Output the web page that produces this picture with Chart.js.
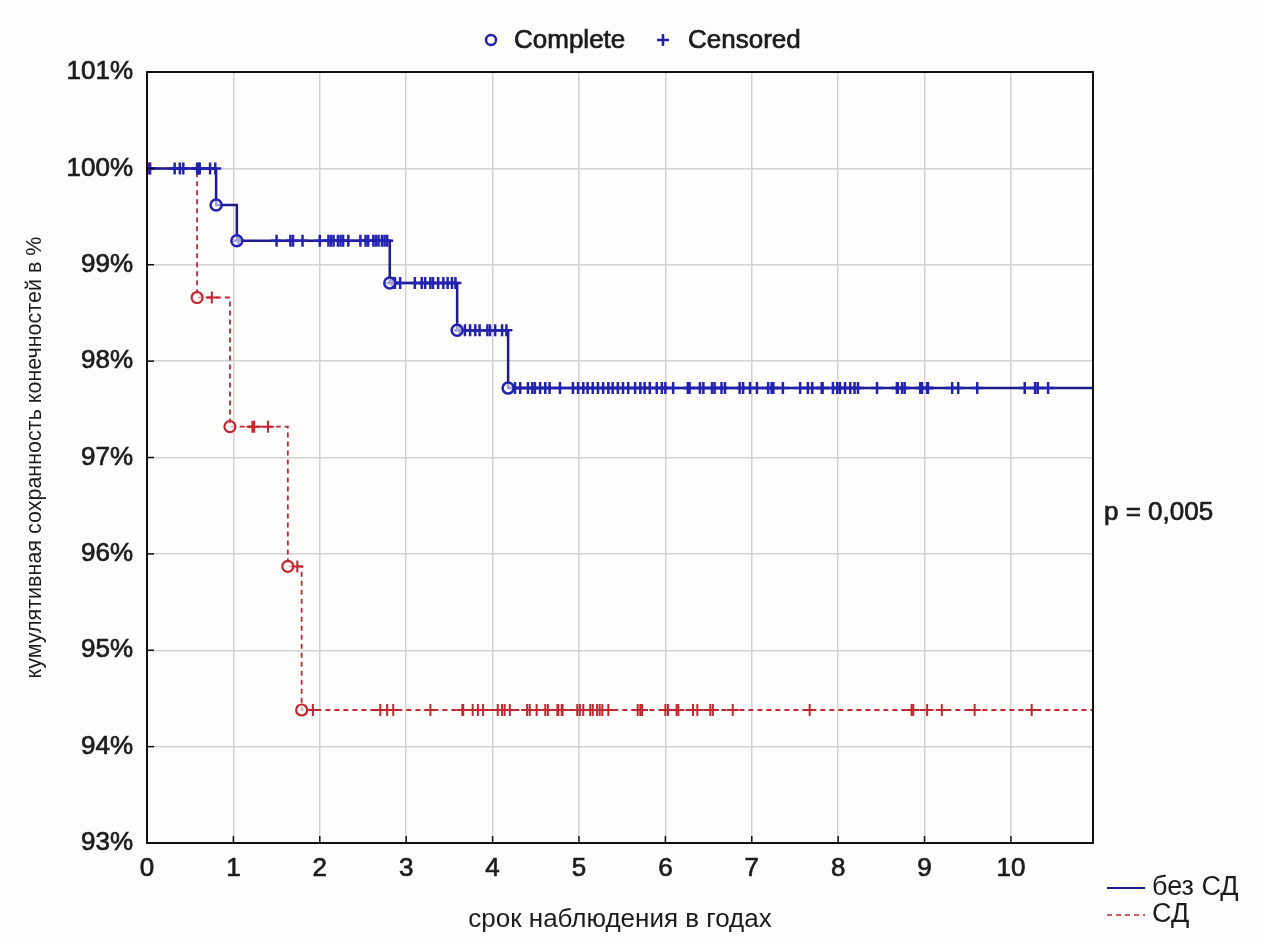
<!DOCTYPE html>
<html>
<head>
<meta charset="utf-8">
<script src="https://cdn.jsdelivr.net/npm/chart.js@4/dist/chart.umd.min.js"></script>
<style>
  html, body { margin: 0; padding: 0; background: #fdfdfb; }
  canvas { display: block; }
</style>
</head>
<body>
<canvas id="km" width="1261" height="939"></canvas>
<script>
// срок наблюдения (годы) и кумулятивная сохранность (%)
const xMin = 0
const xMax = 10.95
const yMin = 93
const yMax = 101

// без СД
const blueEventT = [0.80, 1.04, 2.81, 3.59, 4.18]
const blueEventS = [99.62, 99.25, 98.81, 98.32, 97.72]
const blueCensT = [
  0, 0.03, 0.32, 0.38, 0.42, 0.58, 0.60, 0.61, 0.73, 0.79,
  1.06, 1.50, 1.66, 1.69, 1.80, 2.00, 2.10, 2.13, 2.16, 2.21, 2.24, 2.27, 2.33, 2.47, 2.53, 2.56,
  2.62, 2.65, 2.68, 2.72, 2.75, 2.78,
  2.84, 2.87, 2.93, 3.10, 3.18, 3.22, 3.28, 3.31, 3.37, 3.43, 3.48, 3.53, 3.57,
  3.62, 3.68, 3.74, 3.80, 3.85, 3.94, 3.97, 4.03, 4.11, 4.16,
  4.26, 4.32, 4.41, 4.46, 4.49, 4.55, 4.61, 4.66, 4.78,
  4.93, 4.99, 5.05, 5.10, 5.16, 5.22, 5.28, 5.34, 5.39, 5.45, 5.51, 5.57, 5.65, 5.71, 5.76, 5.82,
  5.90, 5.96, 6.00, 6.09, 6.26, 6.28, 6.40, 6.44, 6.54, 6.57, 6.65, 6.69, 6.86, 6.90, 6.98, 7.06,
  7.19, 7.23, 7.25, 7.36, 7.56, 7.65, 7.70, 7.81, 7.82, 7.94, 7.99, 8.02, 8.08, 8.14, 8.19, 8.23,
  8.45, 8.68, 8.69, 8.74, 8.77, 8.95, 8.97, 9.03, 9.04, 9.32, 9.39, 9.61, 10.16, 10.28, 10.31, 10.43
]

// СД
const redEventT = [0.58, 0.96, 1.63, 1.79]
const redEventS = [98.66, 97.32, 95.87, 94.38]
const redCensT = [
  0.01, 0.04, 0.75, 1.22, 1.24, 1.40, 1.74,
  1.92, 2.70, 2.78, 2.85, 3.28, 3.65, 3.66, 3.77, 3.83, 3.89, 4.06, 4.11, 4.14, 4.20,
  4.40, 4.43, 4.51, 4.61, 4.64, 4.75, 4.76, 4.80, 4.81, 4.98, 5.01, 5.05, 5.13, 5.16,
  5.21, 5.24, 5.27, 5.34, 5.68, 5.71, 5.73, 6.00, 6.03, 6.13, 6.15, 6.32, 6.37, 6.52,
  6.55, 6.78, 7.67, 8.85, 8.87, 9.03, 9.20, 9.58, 10.24
]

const blue = '#1c1c8c'
const blueMark = '#2222b0'
const red = '#c42630'
const textColor = '#1c1c1c'
const font = '"Liberation Sans", Arial, sans-serif'

function survAt (times, surv, t) {
  let s = 100
  times.forEach((et, i) => { if (et <= t) s = surv[i] })
  return s
}

function stepLine (times, surv) {
  const pts = [{ x: 0, y: 100 }]
  times.forEach((t, i) => pts.push({ x: t, y: surv[i] }))
  pts.push({ x: xMax, y: surv[surv.length - 1] })
  return pts
}

const events = (times, surv) => times.map((t, i) => ({ x: t, y: surv[i] }))
const censored = (cens, times, surv) => cens.map(t => ({ x: t, y: survAt(times, surv, t) }))

function line (ctx, x1, y1, x2, y2) {
  ctx.beginPath()
  ctx.moveTo(x1, y1)
  ctx.lineTo(x2, y2)
  ctx.stroke()
}

function text (ctx, str, x, y) {
  ctx.save()
  ctx.strokeStyle = textColor
  ctx.lineWidth = 0.7
  ctx.setLineDash([])
  ctx.fillText(str, x, y)
  ctx.strokeText(str, x, y)
  ctx.restore()
}

const extras = {
  id: 'extras',
  afterDatasetsDraw (chart) {
    const { ctx, chartArea: a, scales: { x, y } } = chart
    ctx.save()
    ctx.strokeStyle = '#111'
    ctx.lineWidth = 2
    ctx.strokeRect(a.left, a.top, a.right - a.left, a.bottom - a.top)
    ctx.lineWidth = 1.5
    y.ticks.forEach(t => {
      const py = y.getPixelForValue(t.value)
      line(ctx, a.left, py, a.left + 7, py)
    })
    x.ticks.forEach(t => {
      const px = x.getPixelForValue(t.value)
      line(ctx, px, a.bottom, px, a.bottom - 7)
    })

    // top legend
    ctx.font = '26px ' + font
    ctx.fillStyle = textColor
    ctx.textBaseline = 'middle'
    ctx.textAlign = 'left'
    ctx.strokeStyle = blueMark
    ctx.lineWidth = 2.5
    ctx.beginPath()
    ctx.arc(491, 40, 5, 0, Math.PI * 2)
    ctx.stroke()
    text(ctx, 'Complete', 514, 41)
    line(ctx, 657, 40, 669, 40)
    line(ctx, 663, 34, 663, 46)
    text(ctx, 'Censored', 688, 41)

    // p value
    text(ctx, 'p = 0,005', 1104, 513)

    // bottom-right legend
    ctx.font = '27px ' + font
    ctx.strokeStyle = blue
    ctx.lineWidth = 2
    line(ctx, 1107, 888, 1145, 888)
    ctx.fillText('без СД', 1152, 888)
    ctx.strokeStyle = red
    ctx.lineWidth = 1.5
    ctx.setLineDash([5, 4])
    line(ctx, 1107, 915, 1145, 915)
    ctx.setLineDash([])
    ctx.fillText('СД', 1152, 915)
    ctx.restore()
  }
}

new Chart(document.getElementById('km'), {
  type: 'scatter',
  data: {
    datasets: [
      {
        type: 'line',
        label: 'без СД',
        data: stepLine(blueEventT, blueEventS),
        stepped: 'before',
        borderColor: blue,
        borderWidth: 2.5,
        pointRadius: 0,
        fill: false,
        order: 3
      },
      {
        label: 'без СД complete',
        data: events(blueEventT, blueEventS),
        pointStyle: 'circle',
        pointRadius: 5.5,
        borderWidth: 2.5,
        borderColor: blueMark,
        backgroundColor: 'rgba(255,255,255,0.6)',
        order: 1
      },
      {
        label: 'без СД censored',
        data: censored(blueCensT, blueEventT, blueEventS),
        pointStyle: 'cross',
        pointRadius: 6,
        borderWidth: 2.5,
        borderColor: blueMark,
        order: 2
      },
      {
        type: 'line',
        label: 'СД',
        data: stepLine(redEventT, redEventS),
        stepped: 'before',
        borderColor: red,
        borderWidth: 1.8,
        borderDash: [5, 4],
        pointRadius: 0,
        fill: false,
        order: 6
      },
      {
        label: 'СД complete',
        data: events(redEventT, redEventS),
        pointStyle: 'circle',
        pointRadius: 5.5,
        borderWidth: 2.2,
        borderColor: red,
        backgroundColor: 'rgba(255,255,255,0.6)',
        order: 4
      },
      {
        label: 'СД censored',
        data: censored(redCensT, redEventT, redEventS),
        pointStyle: 'cross',
        pointRadius: 6,
        borderWidth: 2,
        borderColor: red,
        order: 5
      }
    ]
  },
  options: {
    responsive: false,
    animation: false,
    layout: { padding: { top: 72, right: 168, bottom: 4, left: 8 } },
    plugins: {
      legend: { display: false },
      tooltip: { enabled: false }
    },
    scales: {
      x: {
        type: 'linear',
        min: xMin,
        max: xMax,
        afterFit: (s) => { s.height = 92 },
        border: { display: false },
        grid: { color: '#d2d2d2', lineWidth: 1.5, drawTicks: false },
        ticks: {
          stepSize: 1,
          includeBounds: false,
          padding: 10,
          color: textColor,
          textStrokeColor: textColor,
          textStrokeWidth: 0.7,
          font: { family: font, size: 26 }
        },
        title: {
          display: true,
          text: 'срок наблюдения в годах',
          color: textColor,
          font: { family: font, size: 26 },
          padding: { top: 0, bottom: 0 }
        }
      },
      y: {
        min: yMin,
        max: yMax,
        afterFit: (s) => { s.width = 139 },
        border: { display: false },
        grid: { color: '#d2d2d2', lineWidth: 1.5, drawTicks: false },
        ticks: {
          stepSize: 1,
          padding: 14,
          color: textColor,
          textStrokeColor: textColor,
          textStrokeWidth: 0.7,
          font: { family: font, size: 26 },
          callback: (v) => v + '%'
        },
        title: {
          display: true,
          text: 'кумулятивная сохранность конечностей в %',
          color: textColor,
          font: { family: font, size: 21.5 },
          padding: { top: 14, bottom: 0 }
        }
      }
    }
  },
  plugins: [extras]
})
</script>
</body>
</html>
